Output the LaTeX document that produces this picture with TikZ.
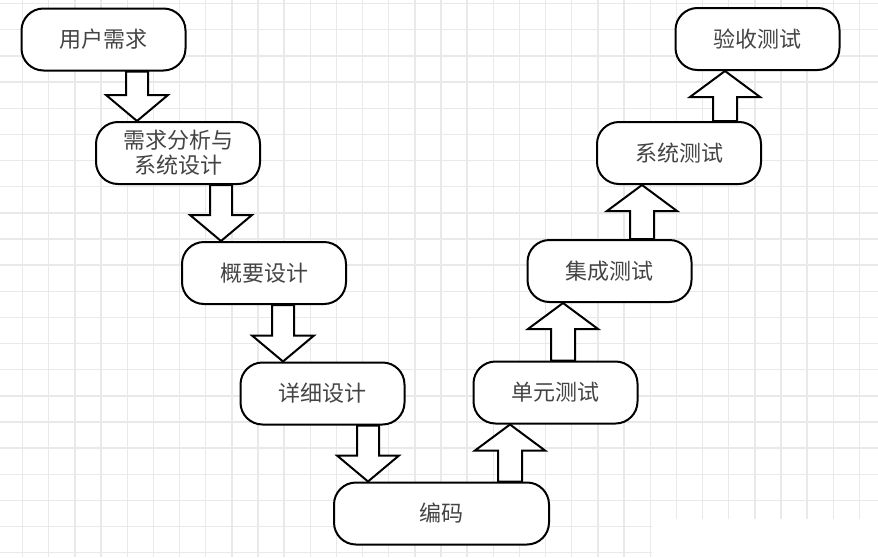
\documentclass[tikz,border=0pt]{standalone}
\usepackage{fontspec}
\newfontfamily\cjk{Noto Sans CJK SC}
\usetikzlibrary{calc}
\pgfdeclarelayer{bg}
\pgfdeclarelayer{arr}
\pgfsetlayers{bg,arr,main}
\definecolor{gridc}{HTML}{E9E9E9}
\definecolor{txt}{HTML}{444444}
\tikzset{
  box/.style={draw=black, line width=2pt, fill=white, rounded corners=22pt,
    minimum height=62pt, minimum width=164pt, inner sep=0pt, align=center,
    font=\cjk\fontsize{22}{25}\selectfont, text=txt},
  blk/.style={draw=black, line width=2pt, fill=white, line join=miter},
  gridline/.style={draw=gridc, line width=1.4pt},
}
\newcommand\blkdown[3]{%
  \draw[blk] let \p1=(#2.south), \p2=(#3.north) in
    ({#1pt-11pt},\y1) -- ({#1pt-11pt},{\y2+26pt}) -- ({#1pt-31pt},{\y2+26pt})
    -- (#1pt,\y2) -- ({#1pt+31pt},{\y2+26pt}) -- ({#1pt+11pt},{\y2+26pt})
    -- ({#1pt+11pt},\y1) -- cycle;}
\newcommand\blkup[3]{%
  \draw[blk] let \p1=(#2.north), \p2=(#3.south) in
    ({#1pt-12pt},\y1) -- ({#1pt-12pt},{\y2-26pt}) -- ({#1pt-35pt},{\y2-26pt})
    -- (#1pt,\y2) -- ({#1pt+35pt},{\y2-26pt}) -- ({#1pt+12pt},{\y2-26pt})
    -- ({#1pt+12pt},\y1) -- cycle;}
\begin{document}
\begin{tikzpicture}[x=1pt,y=-1pt]
\useasboundingbox (0,0) rectangle (878,557);
\begin{pgfonlayer}{bg}
  \fill[white] (0,0) rectangle (878,557);
  \foreach \i in {0,...,32} \draw[gridline] ({22.6+\i*26.15},0) -- ({22.6+\i*26.15},557);
  \foreach \i in {0,...,21} \draw[gridline] (0,{3.6+\i*26.15}) -- (878,{3.6+\i*26.15});
  \fill[white] (652,519) rectangle (878,557);
\end{pgfonlayer}

\node[box] (A) at (103.5,39.5) {用户需求};
\node[box] (B) at (178,153) {需求分析与\\系统设计};
\node[box] (C) at (264,273) {概要设计};
\node[box] (D) at (322.5,393.5) {详细设计};
\node[box, minimum width=215pt] (E) at (441.5,513.5) {编码};
\node[box] (F) at (555.5,392.5) {单元测试};
\node[box] (G) at (609.5,271) {集成测试};
\node[box] (H) at (679,153) {系统测试};
\node[box] (I) at (757.5,39) {验收测试};

\begin{pgfonlayer}{arr}
  \blkdown{137}{A}{B}
  \blkdown{221}{B}{C}
  \blkdown{283}{C}{D}
  \blkdown{368}{D}{E}
  \blkup{510}{E}{F}
  \blkup{563}{F}{G}
  \blkup{642}{G}{H}
  \blkup{725}{H}{I}
\end{pgfonlayer}
\end{tikzpicture}
\end{document}
